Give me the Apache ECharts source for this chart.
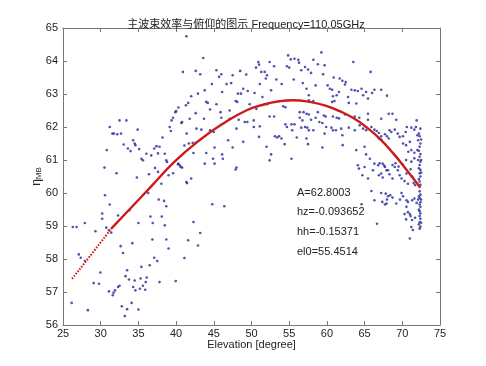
<!DOCTYPE html>
<html>
<head>
<meta charset="utf-8">
<script src="https://cdn.jsdelivr.net/npm/echarts@6/dist/echarts.min.js"></script>
<style>html,body{margin:0;padding:0;background:#fff}#c{width:486px;height:366px}</style>
</head>
<body>
<div id="c"></div>
<script>
var titleText = '主波束效率与俯仰的图示 Frequency=110.05GHz';
var xName = 'Elevation [degree]';
var fitParams = ['A=62.8003', 'hz=-0.093652', 'hh=-0.15371', 'el0=55.4514'];

// measured points [elevation, eta_MB]
var measured = [
[26.15,56.67],[26.3,58.97],[26.8,58.97],[27.1,58.14],[27.35,58.04],[27.9,57.94],[27.9,59.09],[28.3,56.45],[29.07,57.27],[29.3,58.84],[29.78,57.25],[29.96,57.59],[30.2,59.38],[30.2,59.22],[30.5,60.77],[30.57,59.93],[30.75,58.95],[30.8,61.3],[31.1,58.87],[31.1,57.02],[31.2,59.65],[31.2,62.0],[31.4,58.8],[31.55,61.8],[31.6,56.9],[31.7,56.98],[31.9,57.05],[31.75,61.8],[32.1,60.6],[32.2,61.78],[32.3,59.32],[32.3,57.15],[32.5,57.19],[32.5,62.2],[32.65,58.39],[32.7,61.8],[32.8,56.57],[32.96,58.18],[33.05,61.47],[33.2,56.27],[33.3,57.48],[33.4,62.2],[33.5,57.66],[33.5,56.48],[33.6,61.35],[33.75,57.38],[33.8,59.48],[33.96,61.27],[34.1,56.67],[34.2,58.48],[34.3,61.6],[34.3,57.15],[34.5,61.5],[34.5,57.35],[34.6,61.45],[34.6,57.05],[34.8,60.47],[34.9,61.92],[35.0,59.09],[35.0,56.47],[35.1,61.33],[35.2,57.1],[35.3,57.41],[35.4,61.04],[35.4,57.76],[35.6,60.99],[35.6,57.19],[35.9,57.07],[35.97,57.3],[36.06,61.19],[36.1,57.44],[36.3,60.0],[36.4,60.57],[36.5,57.81],[36.6,59.29],[36.7,61.14],[36.85,58.59],[36.9,59.09],[37.1,61.35],[37.1,58.04],[37.2,60.76],[37.4,61.42],[37.5,57.94],[37.6,60.64],[37.6,61.2],[37.7,59.8],[37.8,61.4],[37.8,57.3],[38.05,60.28],[38.1,59.29],[38.2,61.68],[38.4,59.76],[38.5,61.19],[38.5,59.02],[38.7,60.99],[38.7,59.6],[38.7,58.59],[38.8,60.94],[39.0,60.54],[39.0,58.32],[39.15,62.0],[39.3,61.88],[39.4,62.2],[39.6,62.28],[39.6,60.6],[39.95,57.33],[39.9,62.45],[40.0,62.48],[40.25,60.87],[40.3,62.59],[40.3,60.89],[40.5,60.84],[40.6,60.79],[40.7,62.12],[40.8,62.15],[40.8,60.77],[40.9,63.67],[41.1,61.44],[41.1,58.03],[41.3,62.66],[41.37,64.75],[41.37,60.33],[41.45,60.3],[41.4,61.8],[41.6,62.73],[41.6,58.57],[41.7,61.5],[41.8,62.25],
[42.0,62.93],[42.0,60.44],[42.2,61.52],[42.3,61.21],[42.3,59.12],[42.6,63.7],[42.6,62.42],[42.6,61.52],[42.7,61.95],[42.9,63.01],[42.9,58.41],[43.2,63.6],[43.2,58.79],[43.35,61.92],[43.6,64.09],[43.7,62.25],[43.8,63.11],[43.8,60.89],[44.0,62.76],[44.0,61.21],[44.2,62.73],[44.5,62.53],[44.5,61.9],[44.75,63.3],[44.8,59.66],[44.9,61.04],[45.0,61.85],[45.1,61.38],[45.1,60.89],[45.35,63.72],[45.35,62.69],[45.7,63.52],[45.9,62.45],[46.0,63.6],[46.0,62.28],[46.1,63.06],[46.1,61.17],[46.2,61.04],[46.4,59.6],[46.7,63.3],[46.9,61.6],[47.1,62.5],[47.1,62.25],[47.3,63.33],[47.5,63.57],[47.5,61.38],[47.9,62.79],[47.9,60.71],[48.0,61.95],[48.0,60.77],[48.1,62.76],[48.2,63.01],[48.3,62.22],[48.5,63.7],[48.6,63.01],[48.9,63.16],[48.9,61.55],[49.1,62.15],[49.3,63.59],[49.45,62.15],[49.5,63.09],[49.76,62.69],[50.3,62.2],[50.3,62.0],[50.4,63.03],[50.6,63.8],[50.65,62.55],[50.9,63.97],[51.0,63.89],[51.0,61.7],[51.1,63.3],[51.1,62.02],[51.3,63.67],[51.45,62.91],[51.75,63.67],[51.9,63.47],[52.0,61.4],[52.05,63.57],[52.05,62.69],[52.4,63.97],[52.4,62.32],[52.4,60.99],[52.6,63.11],[52.6,61.17],[53.0,63.84],[53.0,62.32],[53.1,61.72],[53.3,63.44],[53.4,61.68],[53.65,61.72],[53.97,61.65],[54.0,63.3],[54.2,62.63],[54.4,61.48],[54.5,62.6],[54.5,62.08],[54.7,63.84],[54.7,62.0],[54.85,64.17],[55.0,63.8],[55.2,64.05],[55.3,62.08],[55.3,61.04],[55.4,61.9],[55.6,63.44],[55.7,64.07],[55.7,62.08],[56.0,61.68],[56.2,64.04],[56.3,63.95],[56.4,62.45],[56.4,62.28],[56.6,63.72],[56.6,61.98],[56.75,62.2],[56.8,63.33],[56.9,62.45],[57.1,63.82],[57.1,62.0],[57.3,63.16],[57.3,62.4],[57.3,61.65],[57.4,61.98],[57.5,63.74],[57.5,61.48],
[57.6,62.96],[57.6,62.81],[57.6,62.38],[57.6,61.9],[57.9,63.64],[57.9,62.22],[58.2,64.04],[58.2,62.79],[58.2,61.9],[58.5,63.26],[58.5,62.28],[58.8,63.9],[58.8,62.45],[59.0,62.15],[59.27,64.26],[59.4,62.12],[59.4,61.38],[59.5,63.6],[59.6,62.35],[59.7,63.87],[59.7,61.8],[59.84,62.32],[59.9,62.0],[60.1,63.26],[60.4,63.16],[60.6,61.98],[60.7,63.13],[60.7,62.76],[60.8,62.93],[60.8,62.32],[60.8,61.9],[60.9,63.5],[61.0,62.79],[61.2,61.9],[61.3,62.96],[61.3,62.28],[61.6,63.06],[61.6,62.26],[61.7,63.47],[61.9,61.95],[62.05,63.4],[62.05,61.75],[62.1,61.45],[62.4,63.29],[62.4,62.38],[62.5,63.36],[62.8,62.91],[62.9,62.73],[62.9,61.98],[63.25,63.13],[63.5,63.97],[63.7,63.11],[63.7,62.32],[63.7,61.9],[63.9,62.71],[63.9,61.3],[64.1,63.09],[64.1,60.84],[64.25,60.74],[64.3,62.28],[64.35,62.05],[64.6,63.16],[64.6,59.66],[64.7,60.54],[64.8,62.96],[64.8,61.95],[65.0,61.4],[65.0,60.79],[65.2,63.06],[65.2,61.9],[65.2,61.17],[65.45,62.86],[65.45,62.4],[65.45,62.22],[65.45,60.44],[65.7,61.04],[65.8,63.67],[65.9,62.0],[65.9,60.06],[66.0,63.03],[66.1,60.69],[66.3,63.13],[66.3,61.92],[66.3,60.89],[66.3,59.78],[66.6,61.88],[66.65,59.07],[66.8,60.84],[66.9,61.82],[66.9,61.65],[66.9,60.54],[67.0,60.9],[67.2,63.13],[67.2,62.25],[67.2,61.72],[67.2,61.62],[67.2,60.59],[67.2,60.0],[67.35,59.73],[67.4,60.89],[67.4,60.47],[67.6,60.83],[67.7,61.78],[67.7,60.79],[67.7,59.65],[67.8,59.98],[67.9,60.69],[67.9,59.68],[67.97,62.95],[67.97,61.72],[67.97,59.8],[68.1,60.69],[68.1,59.9],[68.2,62.4],[68.2,61.65],[68.3,61.9],[68.3,60.57],[68.4,59.93],[68.55,61.85],[68.7,62.4],[68.7,60.85],[68.7,60.44],[68.7,59.86],[69.0,61.92],[69.0,60.79],[69.1,60.9],[69.2,62.22],[69.2,59.68],[69.4,61.8],[69.4,60.69],[69.5,60.8],[69.65,61.7],[69.65,60.54],[69.7,59.8],[69.9,60.44],[69.9,60.0],[70.0,60.87],[70.1,61.72],[70.1,61.5],[70.1,59.9],[70.3,60.36],[70.3,59.36],[70.45,61.85],[70.5,61.45],[70.5,61.0],[70.5,59.2],[70.55,60.59],[70.55,59.78],[70.55,59.58],[70.6,62.0],[70.75,60.28],[70.75,59.73],[70.75,59.42],[70.8,61.25],[71.0,61.55],[71.0,59.36],[71.0,58.62],[71.1,60.72],[71.1,59.3],[71.2,61.98],[71.2,60.95],[71.2,61.3],[71.2,58.97],[71.3,60.5],[71.3,59.78],[71.3,59.18],[71.4,58.88],[71.5,60.3],[71.6,61.92],[71.6,61.05],[71.6,59.83],[71.6,61.22],[71.7,60.24],[71.7,59.25],[71.8,62.0],[71.9,62.2],[71.9,59.7],[72.0,61.75],[72.0,61.3],[72.1,61.6],[72.1,61.0],[72.1,59.8],
[72.2,61.8],[72.3,61.72],[72.4,61.5],[72.3,61.4],[72.2,61.28],[72.4,61.18],[72.3,61.1],[72.4,60.95],[72.3,60.85],[72.2,60.75],[72.4,60.7],[72.3,60.6],[72.4,60.5],[72.2,60.42],[72.3,60.35],[72.4,60.25],[72.3,60.05],[72.4,59.95],[72.2,59.9],[72.3,59.85],[72.4,59.72],[72.3,59.65],[72.4,59.58],[72.2,59.5],[72.3,59.45],[72.4,59.38],[72.3,59.3],[72.4,59.22],[72.3,59.12],[72.2,59.05],[72.4,58.98],[72.3,58.92],[72.4,61.95],[72.5,61.62],[72.5,61.0],[72.5,60.62],[72.5,59.8],[72.5,59.1]
];

// fitted curve
var fitDotted = [[26.2,57.4],[29.0,58.21],[31.4,58.92]];
var fitSolid = [[31.4,58.92],[33.8,59.5],[36.7,60.2],[39.8,60.95],[43.1,61.6],[46.2,62.1],[49.3,62.5],[51.75,62.69],[53.7,62.78],[55.5,62.81],[57.7,62.76],[59.9,62.64],[61.7,62.48],[63.5,62.27],[65.2,62.0],[67.0,61.65],[68.8,61.2],[70.5,60.72],[72.4,60.16]];

var FONT = '"Liberation Sans", Arial, "Noto Sans CJK SC", sans-serif';
var axisCol = '#777';
var txtCol = '#222';
function xAx(pos, showLabel) {
  return {
    type: 'value', position: pos, min: 25, max: 75, interval: 5,
    axisLine: { show: true, onZero: false, lineStyle: { color: axisCol, width: 1 } },
    axisTick: { show: true, inside: true, length: 4, lineStyle: { color: axisCol } },
    axisLabel: { show: showLabel, color: txtCol, fontSize: 11, fontFamily: FONT, margin: 3 },
    splitLine: { show: false },
    name: showLabel ? xName : '', nameLocation: 'middle', nameGap: 14, nameMoveOverlap: false,
    nameTextStyle: { color: txtCol, fontSize: 11, fontFamily: FONT }
  };
}
function yAx(pos, showLabel) {
  return {
    type: 'value', position: pos, min: 56, max: 65, interval: 1,
    axisLine: { show: true, onZero: false, lineStyle: { color: axisCol, width: 1 } },
    axisTick: { show: true, inside: true, length: 4, lineStyle: { color: axisCol } },
    axisLabel: { show: showLabel, color: txtCol, fontSize: 11, fontFamily: FONT, margin: 5 },
    splitLine: { show: false },
    name: showLabel ? '{e|η}{s|MB}' : '', nameLocation: 'middle', nameGap: 20, nameRotate: 90, nameMoveOverlap: false,
    nameTextStyle: { color: txtCol, fontFamily: FONT,
      rich: { e: { fontSize: 12, color: txtCol, fontFamily: FONT }, s: { fontSize: 8, color: txtCol, fontFamily: FONT, verticalAlign: 'bottom', padding: [5, 0, 0, 0] } } }
  };
}

var chart = echarts.init(document.getElementById('c'), null, { renderer: 'canvas' });
chart.setOption({
  backgroundColor: '#fff',
  animation: false,
  title: { text: titleText, left: 241, textAlign: 'center', top: 14,
    textStyle: { fontSize: 11, fontWeight: 'normal', color: txtCol, fontFamily: FONT } },
  grid: { left: 63, right: 46, top: 28, bottom: 41 },
  xAxis: [xAx('bottom', true), xAx('top', false)],
  yAxis: [yAx('left', true), yAx('right', false)],
  graphic: fitParams.map(function (t, i) {
    return { type: 'text', left: 297, top: 187 + i * 19.7,
      style: { text: t, fill: txtCol, font: '11px ' + FONT } };
  }),
  series: [
    { type: 'scatter', data: measured, symbol: 'circle', symbolSize: 2.6,
      itemStyle: { color: '#25259a' }, xAxisIndex: 0, yAxisIndex: 0 },
    { type: 'line', data: fitDotted, showSymbol: false, smooth: true,
      lineStyle: { color: '#cc1a1a', width: 2, type: [1.6, 1.4] } },
    { type: 'line', data: fitSolid, showSymbol: false, smooth: true,
      lineStyle: { color: '#cc1a1a', width: 2.4 } }
  ]
});
</script>
</body>
</html>
